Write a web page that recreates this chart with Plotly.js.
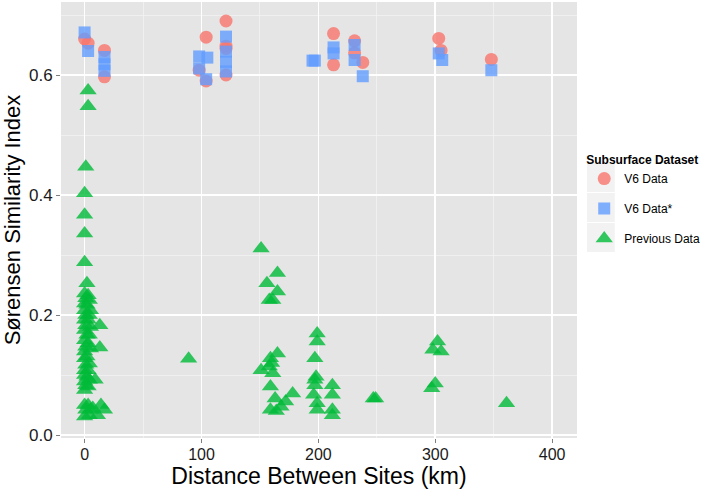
<!DOCTYPE html>
<html>
<head>
<meta charset="utf-8">
<script src="https://cdn.plot.ly/plotly-3.0.1.min.js"></script>
<style>html,body{margin:0;padding:0;background:#fff;}#chart{width:707px;height:492px;}</style>
</head>
<body>
<div id="chart"></div>
<script>
// V6 Data (circles)
var v6X = [0, 3, 17, 17, 104, 98, 104, 121, 121, 121, 121, 213, 213, 231, 231, 238, 303, 305, 348];
var v6Y = [0.660, 0.653, 0.641, 0.597, 0.663, 0.608, 0.590, 0.690, 0.648, 0.644, 0.600, 0.669, 0.617, 0.657, 0.637, 0.621, 0.661, 0.641, 0.626];

// V6 Data* (squares)
var v6sX = [0, 3, 17, 17, 17, 98, 105, 98, 104, 121, 121, 121, 121, 195, 197, 213, 213, 231, 231, 238, 303, 306, 348];
var v6sY = [0.671, 0.640, 0.630, 0.618, 0.607, 0.631, 0.629, 0.611, 0.593, 0.664, 0.639, 0.622, 0.606, 0.624, 0.624, 0.646, 0.636, 0.650, 0.625, 0.598, 0.636, 0.625, 0.608];

// Previous Data (triangles)
var prevX = [3, 3, 1, 0, 0, 0, 0, 2,
  0, 3, 1, 4, 0, 2, 5, 0, 1, 4, 0, 3, 1, 5, 0, 2, 4, 0, 3, 1, 5, 0, 2, 0, 4, 1, 0, 3, 0, 2, 4, 0, 1, 3, 0, 0, 3, 5, 1, 0, 4, 7,
  13, 13, 9, 14, 17, 11,
  89,
  151, 165, 156, 165, 158, 161, 151, 158, 161, 159, 165, 160, 159, 163, 178, 172, 159, 168, 164,
  199, 199, 197, 197, 197, 196, 199, 199, 198,
  212, 212, 212, 212,
  247, 249,
  302, 298, 305, 300, 297,
  361];
var prevY = [0.574, 0.548, 0.447, 0.403, 0.367, 0.336, 0.288, 0.253,
  0.236, 0.233, 0.228, 0.225, 0.219, 0.217, 0.208, 0.208, 0.200, 0.200, 0.192, 0.192, 0.183, 0.180, 0.175, 0.167, 0.167, 0.158, 0.153, 0.147, 0.144, 0.139, 0.131, 0.128, 0.119, 0.117, 0.108, 0.108, 0.100, 0.097, 0.092, 0.089, 0.083, 0.081, 0.075, 0.050, 0.050, 0.042, 0.042, 0.031, 0.033, 0.045,
  0.183, 0.146, 0.092, 0.050, 0.042, 0.033,
  0.127,
  0.311, 0.270, 0.253, 0.239, 0.225, 0.225, 0.108, 0.114, 0.103, 0.128, 0.136, 0.120, 0.081, 0.061, 0.069, 0.056, 0.042, 0.047, 0.040,
  0.169, 0.156, 0.128, 0.092, 0.083, 0.067, 0.053, 0.042, 0.097,
  0.083, 0.067, 0.042, 0.033,
  0.061, 0.061,
  0.156, 0.142, 0.139, 0.086, 0.078,
  0.053];

var seriesNames = ["V6 Data", "V6 Data*", "Previous Data"];
var xTicks = [0, 100, 200, 300, 400];
var yTicks = [0.0, 0.2, 0.4, 0.6];

var font = "Liberation Sans, Arial, Helvetica, sans-serif";

var traces = [
  {x: v6X, y: v6Y, name: seriesNames[0], type: "scatter", mode: "markers", legendgroup: "a",
   marker: {symbol: "circle", size: 13, color: "#F8766D", opacity: 0.8, line: {width: 0}}},
  {x: v6sX, y: v6sY, name: seriesNames[1], type: "scatter", mode: "markers", legendgroup: "b",
   marker: {symbol: "square", size: 12, color: "#619CFF", opacity: 0.8, line: {width: 0}}},
  {x: prevX, y: prevY, name: seriesNames[2], type: "scatter", mode: "markers", legendgroup: "c",
   marker: {symbol: "triangle-up", size: 15, color: "#00BA38", opacity: 0.8, line: {width: 0}}}
];

var layout = {
  width: 707, height: 492,
  margin: {l: 61, r: 127, t: 2, b: 54},
  paper_bgcolor: "#ffffff",
  plot_bgcolor: "#E5E5E5",
  font: {family: font, color: "#000"},
  showlegend: true,
  legend: {
    x: 1.014, xanchor: "left", y: 0.664, yanchor: "top",
    bgcolor: "rgba(0,0,0,0)",
    font: {size: 12, family: font, color: "#000"},
    title: {text: "<b>Subsurface Dataset</b>", font: {size: 12, family: font}},
    tracegroupgap: 11,
    itemsizing: "trace"
  },
  xaxis: {
    range: [-20.2, 421.3],
    tickvals: xTicks, ticktext: xTicks.map(String),
    ticks: "outside", ticklen: 4, tickcolor: "#7F7F7F", tickwidth: 1,
    tickfont: {size: 16, family: font, color: "#1a1a1a"},
    ticklabelstandoff: -2,
    showgrid: true, gridcolor: "#FFFFFF", gridwidth: 1.5,
    minor: {dtick: 50, tick0: 0, showgrid: true, gridcolor: "#F2F2F2", gridwidth: 0.8},
    zeroline: false, showline: false,
    title: {text: "Distance Between Sites (km)", font: {size: 23, family: font, color: "#000"}, standoff: 0}
  },
  yaxis: {
    range: [-0.005, 0.7217],
    tickvals: yTicks, ticktext: yTicks.map(function(v){return v.toFixed(1);}),
    ticks: "outside", ticklen: 4, tickcolor: "#7F7F7F", tickwidth: 1,
    tickfont: {size: 17, family: font, color: "#1a1a1a"},
    showgrid: true, gridcolor: "#FFFFFF", gridwidth: 1.5,
    minor: {dtick: 0.1, tick0: 0, showgrid: true, gridcolor: "#F2F2F2", gridwidth: 0.8},
    zeroline: false, showline: false,
    title: {text: "Sørensen Similarity Index", font: {size: 22, family: font, color: "#000"}, standoff: 4}
  },
  shapes: [
    {type: "rect", xref: "paper", yref: "paper", layer: "below",
     x0: 1.0193, x1: 1.0732, y0: (438-192)/436, y1: (438-163)/436, fillcolor: "#F2F2F2", line: {width: 0}},
    {type: "rect", xref: "paper", yref: "paper", layer: "below",
     x0: 1.0193, x1: 1.0732, y0: (438-222)/436, y1: (438-193)/436, fillcolor: "#F2F2F2", line: {width: 0}},
    {type: "rect", xref: "paper", yref: "paper", layer: "below",
     x0: 1.0193, x1: 1.0732, y0: (438-252)/436, y1: (438-223)/436, fillcolor: "#F2F2F2", line: {width: 0}}
  ]
};

Plotly.newPlot("chart", traces, layout, {displayModeBar: false, staticPlot: true});
</script>
</body>
</html>
